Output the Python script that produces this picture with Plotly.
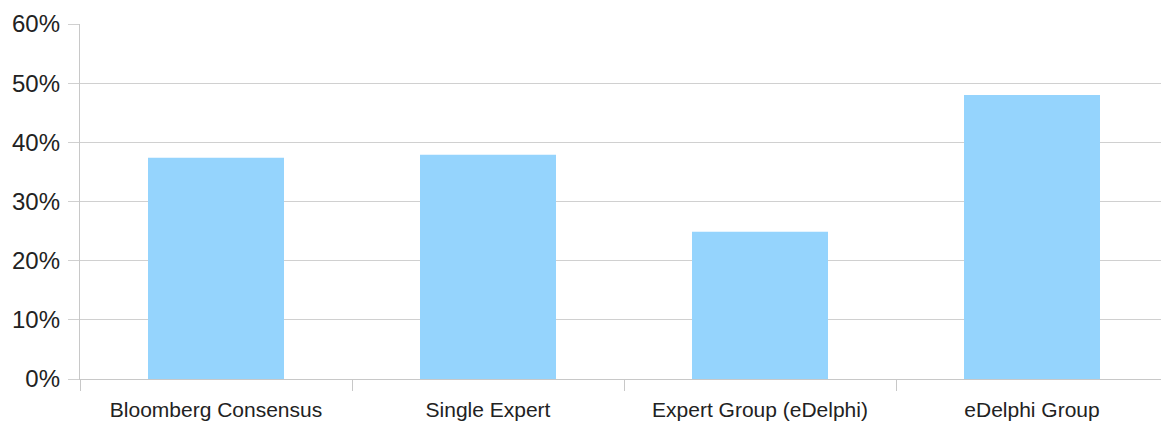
import plotly.graph_objects as go

categories = ["Bloomberg Consensus", "Single Expert", "Expert Group (eDelphi)", "eDelphi Group"]
values = [37.4, 37.9, 24.9, 48.0]
y_ticks = [0, 10, 20, 30, 40, 50, 60]
y_tick_labels = ["0%", "10%", "20%", "30%", "40%", "50%", "60%"]

fig = go.Figure()
fig.add_trace(go.Bar(
    x=categories, y=values, width=0.5,
    marker=dict(color="#95D4FD", line=dict(width=0)),
    hoverinfo="skip",
))

fig.update_layout(
    width=1161, height=423,
    margin=dict(l=80, r=0, t=24, b=44),
    paper_bgcolor="white", plot_bgcolor="white",
    font=dict(family="Liberation Sans, Arial, sans-serif", color="#222222"),
    showlegend=False,
    bargap=0.5,
)
fig.update_xaxes(
    range=[-0.5, -0.5 + 1081 / 272],
    showgrid=False, showline=True, linecolor="#c8c8c8", linewidth=1.3,
    ticks="outside", tickson="boundaries", ticklen=11, tickcolor="#c8c8c8", tickwidth=1.3,
    tickfont=dict(size=21), ticklabelstandoff=12,
)
fig.update_yaxes(
    range=[0, 60], tickvals=y_ticks, ticktext=y_tick_labels,
    showgrid=True, gridcolor="#d0d0d0", gridwidth=1.3,
    showline=True, linecolor="#c8c8c8", linewidth=1.3,
    zeroline=False,
    ticks="outside", ticklen=11, tickcolor="#d0d0d0", tickwidth=1.3,
    tickfont=dict(size=24), ticklabelstandoff=3,
)

fig.write_html("out.html")
